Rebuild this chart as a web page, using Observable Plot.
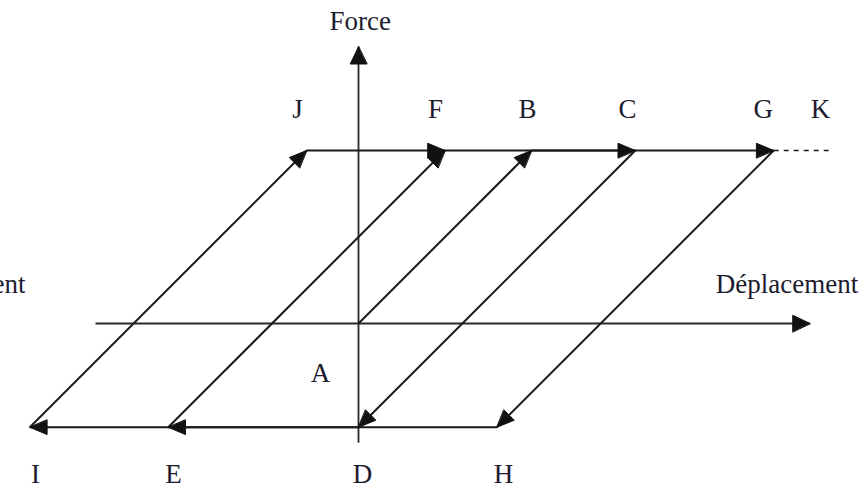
<!DOCTYPE html>
<html><head><meta charset="utf-8">
<script src="https://cdn.jsdelivr.net/npm/d3@7"></script>
<script src="https://cdn.jsdelivr.net/npm/@observablehq/plot@0.6"></script>
<style>body{margin:0;background:#fff}</style>
</head><body><div id="chart"></div>
<script>
// Key points of the elasto-plastic force–displacement cycle (displacement, force)
const pointNames   = ["A", "B", "C", "D", "E",  "F", "G", "H", "I",  "J", "K"];
const displacement = [0,   10,  16,  0,   -11,  5,   24,  8,   -19,  -3,  27.3];
const force        = [0,   10,  10,  -6,  -6,   10,  10,  -6,  -6,   10,  10];

// Loading path (each step ends with an arrow)
const pathOrder = ["A", "B", "C", "D", "E", "F", "G", "H", "I", "J"];
const extraArrowed = [["J", "F"]];
const dashedParts = [["G", "K"]];

// Axes extents
const axisX = [-15.2, 26.1];
const axisY = [-6.9, 16.0];

// Labels
const labelText = ["J", "F", "B", "C", "G", "K", "I", "E", "D", "H", "A"];
const labelX    = [-3.53, 4.45, 9.77, 15.55, 23.4, 26.7, -18.67, -10.69, 0.23, 8.38, -2.2];
const labelY    = [12.37, 12.37, 12.37, 12.37, 12.37, 12.37, -8.72, -8.72, -8.72, -8.72, -2.89];
const axisTitles = ["Force", "Déplacement"];
const axisTitleX = [0.1, 24.77];
const axisTitleY = [17.46, 2.28];
// Left-hand label, cut by the picture's left edge in the reference
const leftTitle = ["Déplacement"];
const leftTitleX = [-19.25];
const leftTitleY = [2.28];

const P = Object.fromEntries(pointNames.map((n, i) => [n, {x: displacement[i], y: force[i]}]));
const seg = (a, b) => ({x1: P[a].x, y1: P[a].y, x2: P[b].x, y2: P[b].y});

const segments = [];
for (let i = 0; i < pathOrder.length - 1; i++) segments.push(seg(pathOrder[i], pathOrder[i + 1]));
extraArrowed.forEach(([a, b]) => segments.push(seg(a, b)));
const dashed = dashedParts.map(([a, b]) => seg(a, b));
const axes = [
  {x1: axisX[0], y1: 0, x2: axisX[1], y2: 0},
  {x1: 0, y1: axisY[0], x2: 0, y2: axisY[1]}
];

function head(s, id, L = 1.0, W = 0.42) {
  const dx = s.x2 - s.x1, dy = s.y2 - s.y1, len = Math.hypot(dx, dy);
  const ux = dx / len, uy = dy / len, nx = -uy, ny = ux;
  const bx = s.x2 - L * ux, by = s.y2 - L * uy;
  return [
    {id, x: s.x2, y: s.y2},
    {id, x: bx + W * nx, y: by + W * ny},
    {id, x: bx - W * nx, y: by - W * ny}
  ];
}
const heads = [];
segments.forEach((s, i) => heads.push(...head(s, "s" + i)));
axes.forEach((s, i) => heads.push(...head(s, "a" + i, 1.0, 0.48)));

const labels = labelText.map((t, i) => ({t, x: labelX[i], y: labelY[i]}));
const titles = axisTitles.map((t, i) => ({t, x: axisTitleX[i], y: axisTitleY[i]}));
const leftTitles = leftTitle.map((t, i) => ({t, x: leftTitleX[i], y: leftTitleY[i]}));

const serif = "'Liberation Serif', 'Times New Roman', 'DejaVu Serif', serif";
const pxPerUnit = 17.3;
const chart = Plot.plot({
  width: 864,
  height: 489,
  margin: 0,
  style: "overflow:hidden;background:#fff",
  x: {domain: [-358 / pxPerUnit, (864 - 358) / pxPerUnit], axis: null},
  y: {domain: [(323 - 489) / pxPerUnit, 323 / pxPerUnit], axis: null},
  marks: [
    Plot.link(axes, {x1: "x1", y1: "y1", x2: "x2", y2: "y2", stroke: "#2a2a2a", strokeWidth: 1.8}),
    Plot.link(segments, {x1: "x1", y1: "y1", x2: "x2", y2: "y2", stroke: "#1a1a1a", strokeWidth: 2}),
    Plot.link(dashed, {x1: "x1", y1: "y1", x2: "x2", y2: "y2", stroke: "#1a1a1a", strokeWidth: 1.6, strokeDasharray: "5,5"}),
    Plot.line(heads, {x: "x", y: "y", z: "id", fill: "#111", stroke: "#111", strokeWidth: 1, curve: "linear-closed"}),
    Plot.text(labels, {x: "x", y: "y", text: "t", fontFamily: serif, fontSize: 27, fill: "#1c1c2e"}),
    Plot.text(titles, {x: "x", y: "y", text: "t", fontFamily: serif, fontSize: 27, fill: "#1c1c2e"}),
    Plot.text(leftTitles, {x: "x", y: "y", text: "t", textAnchor: "end", fontFamily: serif, fontSize: 27, fill: "#1c1c2e"})
  ]
});
document.getElementById("chart").append(chart);
</script>
</body></html>
